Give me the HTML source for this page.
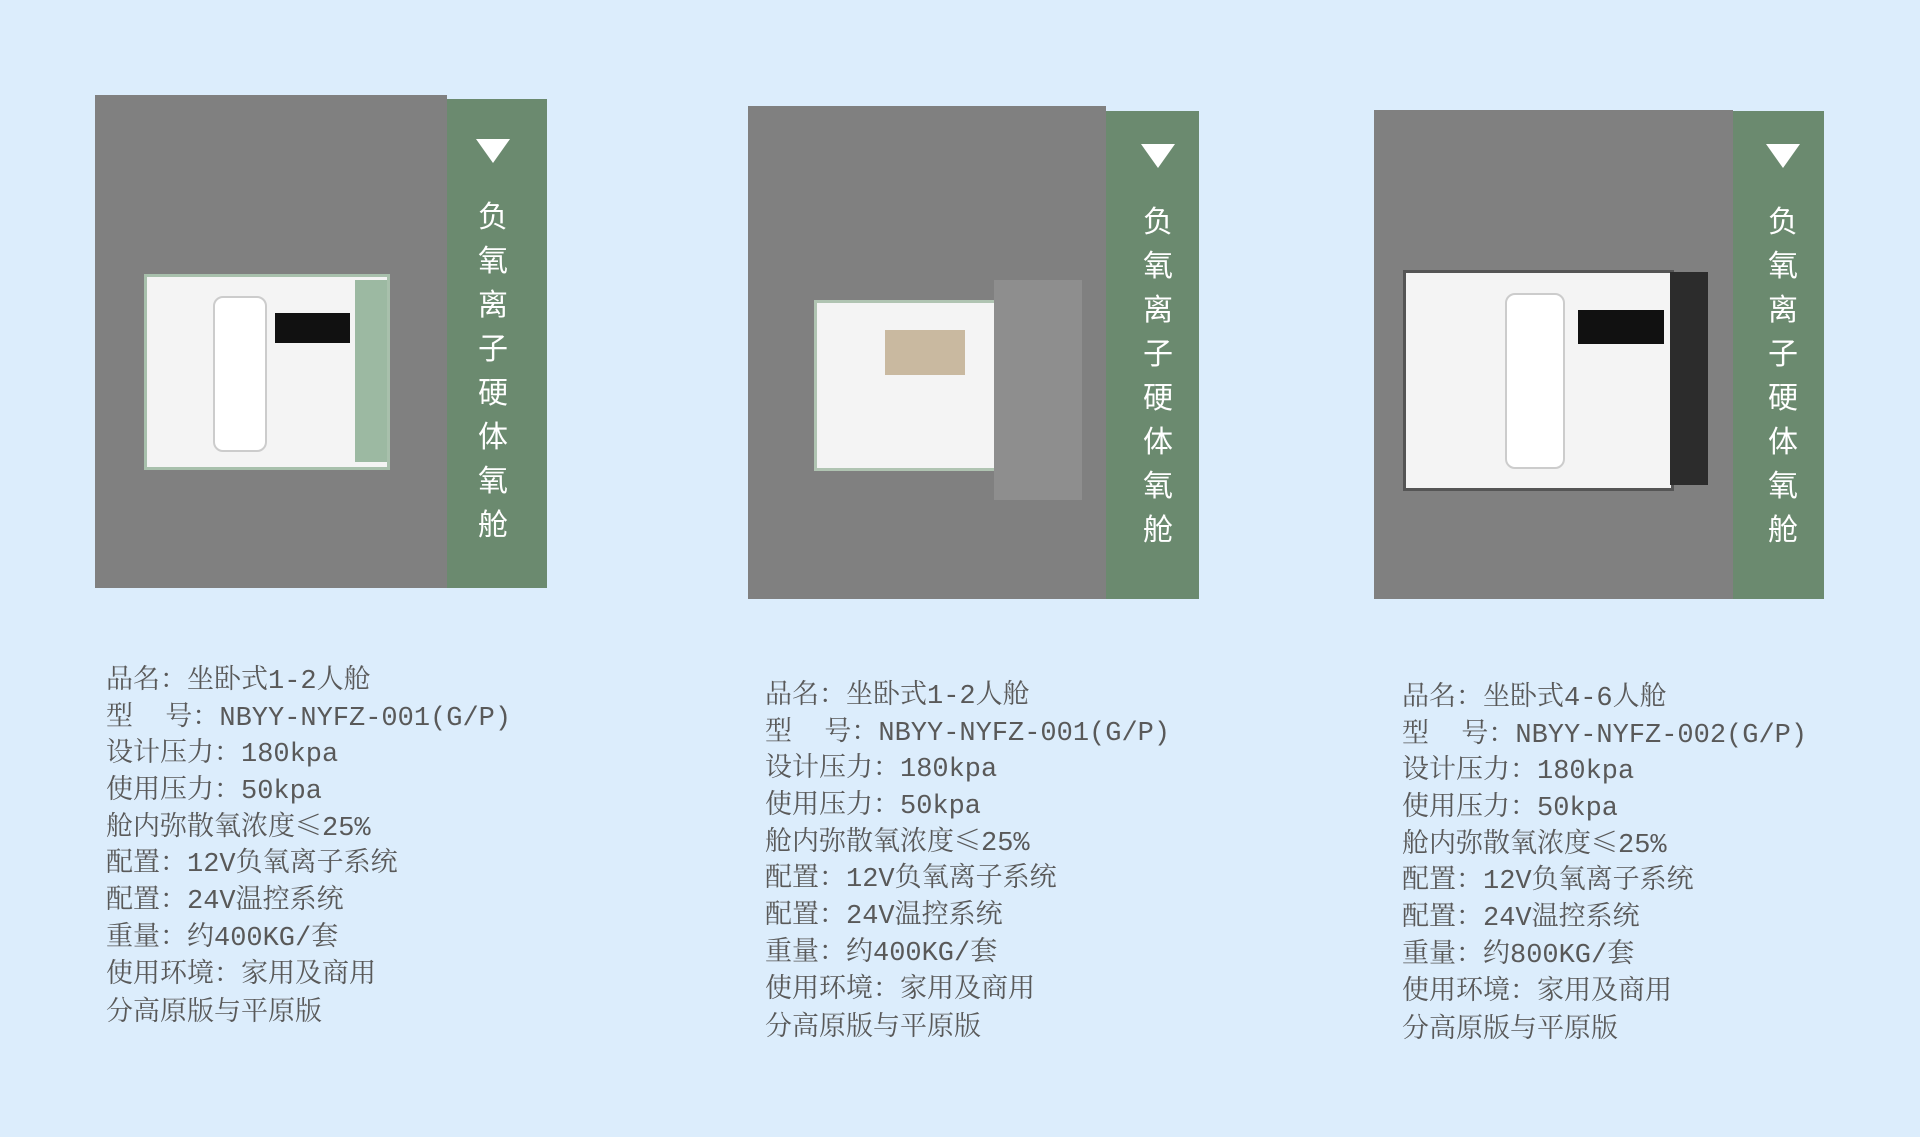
<!DOCTYPE html>
<html><head><meta charset="utf-8"><style>
body{margin:0;width:1920px;height:1137px;background:#dcedfc;position:relative;overflow:hidden;font-family:"Liberation Serif","Noto Serif CJK SC",serif}
.g{position:absolute;background:#808080}
.s{position:absolute;background:#6b8a6f}
.v{position:absolute;color:#fff;font-family:"Liberation Sans","Noto Sans CJK SC",sans-serif;font-size:30px;line-height:44px;width:40px;text-align:center}
.tri{width:0;height:0;border-left:17px solid transparent;border-right:17px solid transparent;border-top:24px solid #fff;margin:2px auto 33px}
.t{position:absolute;color:#595959;font-size:27px;white-space:pre;font-family:"Liberation Mono","Noto Serif CJK SC",serif}
.t div{height:36.7px;line-height:36.7px;overflow:visible}
.t div.l{padding-top:7px}
.c{font-family:"Noto Serif CJK SC",serif}
.box{position:absolute;background:#f4f4f4;border:3px solid #9ab09e}
.win{position:absolute;background:#111}
.door{position:absolute;background:#fff;border:2px solid #ccc;border-radius:10px}
</style></head><body>
<div class="g" style="left:95px;top:95px;width:352px;height:493px"></div>
<div class="s" style="left:447px;top:99px;width:100px;height:489px"></div>
<div class="v" style="left:473px;top:137px"><div class="tri"></div>负<br>氧<br>离<br>子<br>硬<br>体<br>氧<br>舱</div>
<div class="box" style="left:144px;top:274px;width:240px;height:190px;border-color:#a8c0ac"></div>
<div class="box" style="left:355px;top:280px;width:32px;height:182px;background:#9cb9a2;border:none"></div>
<div class="door" style="left:213px;top:296px;width:50px;height:152px"></div>
<div class="win" style="left:275px;top:313px;width:75px;height:30px"></div>

<div class="g" style="left:748px;top:106px;width:358px;height:493px"></div>
<div class="s" style="left:1106px;top:111px;width:93px;height:488px"></div>
<div class="v" style="left:1138px;top:142px"><div class="tri"></div>负<br>氧<br>离<br>子<br>硬<br>体<br>氧<br>舱</div>
<div class="box" style="left:814px;top:300px;width:180px;height:165px;border-color:#b0c4b2"></div>
<div class="box" style="left:994px;top:280px;width:88px;height:220px;background:#8e8e8e;border:none"></div>
<div class="win" style="left:885px;top:330px;width:80px;height:45px;background:#c9b9a0"></div>

<div class="g" style="left:1374px;top:110px;width:359px;height:489px"></div>
<div class="s" style="left:1733px;top:111px;width:91px;height:488px"></div>
<div class="v" style="left:1763px;top:142px"><div class="tri"></div>负<br>氧<br>离<br>子<br>硬<br>体<br>氧<br>舱</div>
<div class="box" style="left:1403px;top:270px;width:265px;height:215px;border-color:#555"></div>
<div class="box" style="left:1670px;top:272px;width:38px;height:213px;background:#2c2c2c;border:none"></div>
<div class="door" style="left:1505px;top:293px;width:56px;height:172px"></div>
<div class="win" style="left:1578px;top:310px;width:86px;height:34px"></div>

<div class="t" style="left:106px;top:659px"><div>品名<span class="c">：</span>坐卧式1-2人舱</div><div>型  号<span class="c">：</span>NBYY-NYFZ-001(G/P)</div><div>设计压力<span class="c">：</span>180kpa</div><div>使用压力<span class="c">：</span>50kpa</div><div>舱内弥散氧浓度<span class="c">≤</span>25%</div><div>配置<span class="c">：</span>12V负氧离子系统</div><div>配置<span class="c">：</span>24V温控系统</div><div>重量<span class="c">：</span>约400KG/套</div><div>使用环境<span class="c">：</span>家用及商用</div><div class="l">分高原版与平原版</div></div>
<div class="t" style="left:765px;top:674px"><div>品名<span class="c">：</span>坐卧式1-2人舱</div><div>型  号<span class="c">：</span>NBYY-NYFZ-001(G/P)</div><div>设计压力<span class="c">：</span>180kpa</div><div>使用压力<span class="c">：</span>50kpa</div><div>舱内弥散氧浓度<span class="c">≤</span>25%</div><div>配置<span class="c">：</span>12V负氧离子系统</div><div>配置<span class="c">：</span>24V温控系统</div><div>重量<span class="c">：</span>约400KG/套</div><div>使用环境<span class="c">：</span>家用及商用</div><div class="l">分高原版与平原版</div></div>
<div class="t" style="left:1402px;top:676px"><div>品名<span class="c">：</span>坐卧式4-6人舱</div><div>型  号<span class="c">：</span>NBYY-NYFZ-002(G/P)</div><div>设计压力<span class="c">：</span>180kpa</div><div>使用压力<span class="c">：</span>50kpa</div><div>舱内弥散氧浓度<span class="c">≤</span>25%</div><div>配置<span class="c">：</span>12V负氧离子系统</div><div>配置<span class="c">：</span>24V温控系统</div><div>重量<span class="c">：</span>约800KG/套</div><div>使用环境<span class="c">：</span>家用及商用</div><div class="l">分高原版与平原版</div></div>
</body></html>
